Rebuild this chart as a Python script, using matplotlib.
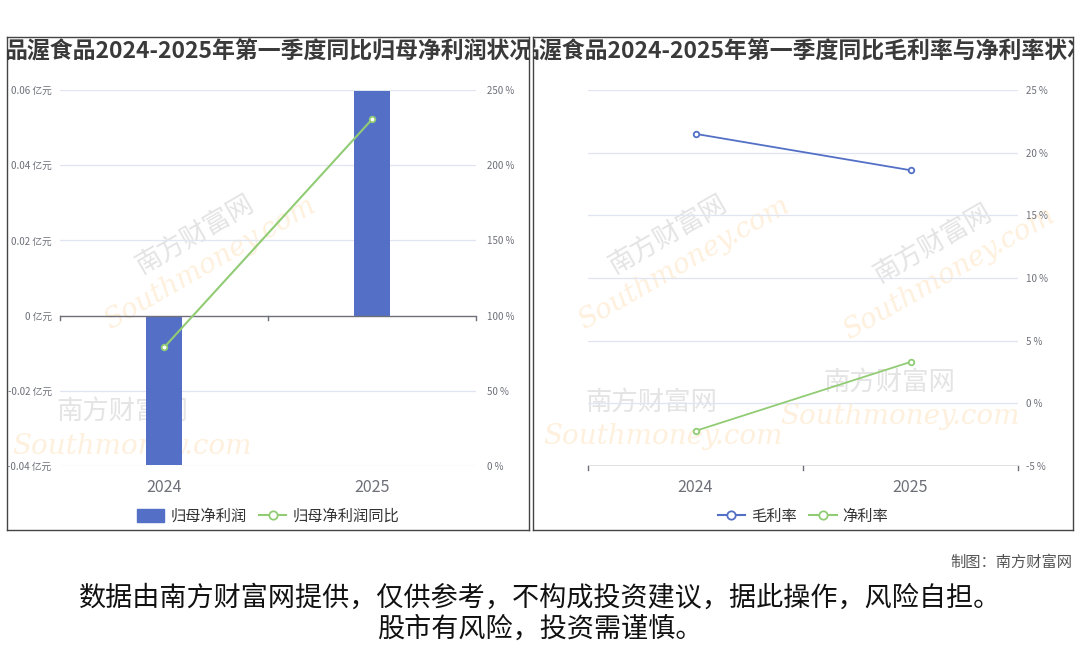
import matplotlib
matplotlib.use('Agg')
import matplotlib.pyplot as plt
from matplotlib.patches import Patch
from matplotlib.lines import Line2D
import numpy as np

plt.rcParams['font.family'] = ['Noto Sans CJK SC', 'DejaVu Sans']

#%% DATA
years = ['2024', '2025']
net_profit = [-0.0398, 0.0598]        # 归母净利润 (亿元)
net_profit_yoy = [78.8, 230.5]        # 归母净利润同比 (%)
gross_margin = [21.5, 18.6]           # 毛利率 (%)
net_margin = [-2.2, 3.3]              # 净利率 (%)

left_ticks = [-0.04, -0.02, 0, 0.02, 0.04, 0.06]
left_ticklabels = ['-0.04 亿元', '-0.02 亿元', '0 亿元', '0.02 亿元', '0.04 亿元', '0.06 亿元']
yoy_ticks = [0, 50, 100, 150, 200, 250]
margin_ticks = [-5, 0, 5, 10, 15, 20, 25]

title_left = '品渥食品2024-2025年第一季度同比归母净利润状况'
title_right = '品渥食品2024-2025年第一季度同比毛利率与净利率状况'
credit = '制图：南方财富网'
disclaimer = '数据由南方财富网提供，仅供参考，不构成投资建议，据此操作，风险自担。\n股市有风险，投资需谨慎。'

BLUE = '#5470C6'
GREEN = '#91CC75'
AXCOL = '#6E7079'
GRID = '#E0E6F1'

W, H = 1080, 646
fig = plt.figure(figsize=(W / 100, H / 100), dpi=100)


def rect(x0, y0, x1, y1):
    # pixel box (top-left origin) -> figure fraction
    return [x0 / W, 1 - y1 / H, (x1 - x0) / W, (y1 - y0) / H]


def panel(x0, x1, title):
    pa = fig.add_axes(rect(x0, 37, x1, 530), zorder=0)
    pa.set_xlim(0, 1)
    pa.set_ylim(0, 1)
    pa.set_xticks([])
    pa.set_yticks([])
    for s in pa.spines.values():
        s.set_color('#444444')
        s.set_linewidth(1.0)
    pa.text(0.5, 1 - 15 / 493, title, ha='center', va='center', fontsize=16.5,
            fontweight='bold', color='#3a3a3a', transform=pa.transAxes, clip_on=True)
    return pa


def watermarks(pa, items):
    # faint site watermarks (cn name + url)
    for (x, y, rot) in items:
        pa.text(x, y, '南方财富网', fontsize=19, color='#e4e4e4', rotation=rot,
                ha='center', va='center', transform=pa.transAxes, clip_on=True, zorder=0)
        dx, dy = (0.03, -0.06) if rot else (0.02, -0.07)
        pa.text(x + dx, y + dy, 'Southmoney.com', fontsize=20, color='#fef0dc', rotation=rot,
                family='DejaVu Serif', style='italic', ha='center', va='center',
                transform=pa.transAxes, clip_on=True, zorder=0)


pl = panel(7, 529, title_left)
pr = panel(533, 1073, title_right)
watermarks(pl, [(0.36, 0.60, 30), (0.22, 0.24, 0)])
watermarks(pr, [(0.25, 0.60, 30), (0.74, 0.58, 30), (0.22, 0.26, 0), (0.66, 0.30, 0)])

x = np.arange(len(years))

#%% LEFT CHART
ax1 = fig.add_axes(rect(60, 90, 476, 466), zorder=2)
ax1.patch.set_alpha(0)
ax1.set_xlim(-0.5, 1.5)
ax1.set_ylim(-0.04, 0.06)
ax1.set_yticks(left_ticks)
ax1.set_yticklabels(left_ticklabels)
for v in left_ticks:
    if v != 0:
        ax1.axhline(v, color=GRID, lw=0.9, zorder=0)
ax1.bar(x, net_profit, width=0.173, color=BLUE, zorder=2)
ax1.axhline(0, color=AXCOL, lw=1.0, zorder=3)
for b in [-0.5, 0.5, 1.5]:
    ax1.plot([b, b], [0, -0.0012], color=AXCOL, lw=1.0, zorder=3, clip_on=False)
ax1.set_xticks(x)
ax1.set_xticklabels(years)
ax1.tick_params(axis='x', length=0, pad=9, labelsize=11.5, labelcolor=AXCOL)
ax1.tick_params(axis='y', length=0, pad=6, labelsize=7, labelcolor=AXCOL)
for s in ax1.spines.values():
    s.set_visible(False)

ax1b = ax1.twinx()
ax1b.set_zorder(3)
ax1b.patch.set_alpha(0)
ax1b.set_ylim(0, 250)
ax1b.set_yticks(yoy_ticks)
ax1b.set_yticklabels([f'{v} %' for v in yoy_ticks])
ax1b.tick_params(axis='y', length=0, pad=8, labelsize=7, labelcolor=AXCOL)
for s in ax1b.spines.values():
    s.set_visible(False)
ax1b.plot(x, net_profit_yoy, color=GREEN, lw=1.5, marker='o', markersize=4,
          markerfacecolor='white', markeredgecolor=GREEN, markeredgewidth=1.3, zorder=4)

h1 = [Patch(facecolor=BLUE, edgecolor=BLUE, label='归母净利润'),
      Line2D([0], [0], color=GREEN, lw=1.5, marker='o', markersize=6,
             markerfacecolor='white', markeredgewidth=1.3, label='归母净利润同比')]
fig.legend(handles=h1, loc='center', bbox_to_anchor=(268 / W, 1 - 516 / H), ncol=2,
           frameon=False, fontsize=11, labelcolor='#333333', handlelength=1.8,
           handleheight=0.9, columnspacing=0.8, handletextpad=0.4)

#%% RIGHT CHART
ax2 = fig.add_axes(rect(588, 90, 1018, 466), zorder=2)
ax2.patch.set_alpha(0)
ax2.set_xlim(-0.5, 1.5)
ax2.set_ylim(-5, 25)
ax2.set_yticks(margin_ticks)
ax2.set_yticklabels([f'{v} %' for v in margin_ticks])
ax2.yaxis.tick_right()
for v in margin_ticks[1:]:
    ax2.axhline(v, color=GRID, lw=0.9, zorder=0)
ax2.axhline(-5, color=AXCOL, lw=1.0, zorder=3)
for b in [-0.5, 0.5, 1.5]:
    ax2.plot([b, b], [-5, -5.35], color=AXCOL, lw=1.0, zorder=3, clip_on=False)
ax2.plot(x, gross_margin, color=BLUE, lw=1.3, marker='o', markersize=4,
         markerfacecolor='white', markeredgecolor=BLUE, markeredgewidth=1.3, zorder=4)
ax2.plot(x, net_margin, color=GREEN, lw=1.3, marker='o', markersize=4,
         markerfacecolor='white', markeredgecolor=GREEN, markeredgewidth=1.3, zorder=4)
ax2.set_xticks(x)
ax2.set_xticklabels(years)
ax2.tick_params(axis='x', length=0, pad=9, labelsize=11.5, labelcolor=AXCOL)
ax2.tick_params(axis='y', length=0, pad=6, labelsize=7, labelcolor=AXCOL)
for s in ax2.spines.values():
    s.set_visible(False)

h2 = [Line2D([0], [0], color=BLUE, lw=1.5, marker='o', markersize=6,
             markerfacecolor='white', markeredgewidth=1.3, label='毛利率'),
      Line2D([0], [0], color=GREEN, lw=1.5, marker='o', markersize=6,
             markerfacecolor='white', markeredgewidth=1.3, label='净利率')]
fig.legend(handles=h2, loc='center', bbox_to_anchor=(803 / W, 1 - 516 / H), ncol=2,
           frameon=False, fontsize=11, labelcolor='#333333', handlelength=1.8,
           columnspacing=0.8, handletextpad=0.4)

#%% FOOTER
fig.text(1072 / W, 1 - 562 / H, credit, ha='right', va='center', fontsize=11, color='#555555')
fig.text(540 / W, 1 - 614 / H, disclaimer, ha='center', va='center', fontsize=19.5,
         color='#111111', linespacing=1.2)

fig.savefig('out.png', dpi=100)
